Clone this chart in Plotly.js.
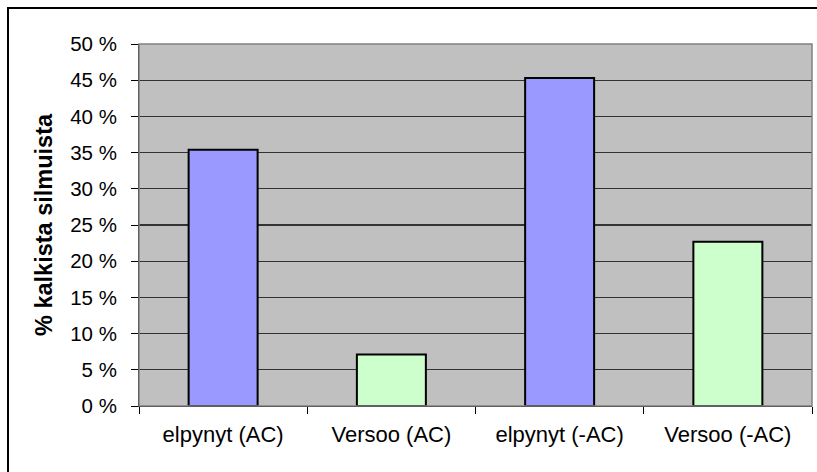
<!DOCTYPE html>
<html>
<head>
<meta charset="utf-8">
<script src="https://cdn.plot.ly/plotly-3.0.1.min.js"></script>
<style>
html,body{margin:0;padding:0;background:#fff;overflow:hidden;}
#chart{width:817px;height:472px;position:absolute;left:0;top:0;}
#frame{position:absolute;left:7px;top:7px;width:830px;height:490px;border:2px solid #000;pointer-events:none;}
</style>
</head>
<body>
<div id="chart"></div>
<div id="frame"></div>
<script>
const categories = ["elpynyt (AC)", "Versoo (AC)", "elpynyt (-AC)", "Versoo (-AC)"];
const values = [35.4, 7.1, 45.3, 22.7];
const barColors = ["#9999FF", "#CCFFCC", "#9999FF", "#CCFFCC"];
const yTicks = [0, 5, 10, 15, 20, 25, 30, 35, 40, 45, 50];
const yTitle = "% kalkista silmuista";

const trace = {
  type: "bar",
  x: categories,
  y: values,
  width: 0.41,
  marker: {color: barColors, line: {color: "#000", width: 2}},
  hoverinfo: "none"
};

const layout = {
  width: 817, height: 472,
  margin: {l: 139, r: 5, t: 44, b: 66},
  paper_bgcolor: "#fff",
  plot_bgcolor: "#C0C0C0",
  showlegend: false,
  font: {family: "Liberation Sans, Arial, sans-serif", color: "#000", size: 20},
  xaxis: {
    type: "category",
    tickson: "boundaries",
    ticks: "outside", ticklen: 7, tickcolor: "#000", tickwidth: 1,
    showgrid: false, showline: true, linecolor: "#000", linewidth: 1,
    tickfont: {size: 22},
    ticklabelstandoff: 9
  },
  yaxis: {
    range: [0, 50],
    tickvals: yTicks,
    ticktext: yTicks.map(v => v + " %"),
    ticks: "outside", ticklen: 7, tickcolor: "#000", tickwidth: 1,
    showgrid: true, gridcolor: "#333333", gridwidth: 1.3,
    zeroline: false,
    showline: true, linecolor: "#000", linewidth: 1,
    tickfont: {size: 20.5},
    ticklabelstandoff: 10,
    title: {text: "<b>" + yTitle + "</b>", font: {size: 23.5}, standoff: 10}
  },
  shapes: [{
    type: "rect", xref: "paper", yref: "paper", x0: 0, x1: 1, y0: 0, y1: 1,
    line: {color: "#808080", width: 1.5}, layer: "above"
  }]
};

Plotly.newPlot("chart", [trace], layout, {displayModeBar: false, staticPlot: true});
</script>
</body>
</html>
